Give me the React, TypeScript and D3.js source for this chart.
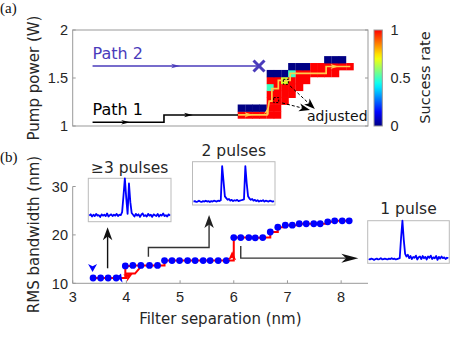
import React from "react";
import * as d3 from "d3";

// ---------- Panel (a) data ----------
const heatColCenters = [6.14, 6.28, 6.41, 6.54, 6.68, 6.81, 6.95, 7.08, 7.22, 7.35, 7.49, 7.62, 7.75, 7.89, 8.02, 8.16];
const heatRowCenters = [1.116, 1.188, 1.26, 1.332, 1.404, 1.476, 1.548, 1.62, 1.692];
const heatCellW = 0.134;
const heatCellH = 0.072;
const _ = null;
// rows from bottom (row 0) to top; value = success rate
const heatGrid: (number | null)[][] = [
  [1, 1, 1, 1, 1, 1, _, _, _, _, _, _, _, _, _, _],
  [0, 0, 0, 0, 1, 1, _, _, _, _, _, _, _, _, _, _],
  [_, _, _, _, 1, 1, 1, _, _, _, _, _, _, _, _, _],
  [_, _, _, _, 1, 1, 1, 1, _, _, _, _, _, _, _, _],
  [_, _, _, _, 0.5, 1, 1, 1, 1, _, _, _, _, _, _, _],
  [_, _, _, _, 1, 1, 0.67, 1, 1, 1, _, _, _, _, _, _],
  [_, _, _, _, 0, 0, 0, 0.5, 1, 1, 1, 1, 1, 1, _, _],
  [_, _, _, _, _, _, _, 0, 0, 0, 1, 1, 1, 1, 1, 1],
  [_, _, _, _, _, _, _, _, _, _, _, _, 0, 0, 0, _],
];
const cmapStops = [0, 0.143, 0.429, 0.714, 1];
const cmapColors = ["#000084", "#0000ff", "#00ffff", "#ffff00", "#ff0000"];

const path1X = [3.37, 4.7, 4.7, 6.08];
const path1Y = [1.039, 1.039, 1.115, 1.115];
const path1Arrows = [[4.07, 1.039], [5.24, 1.115]];
const path2X = [3.37, 6.47];
const path2Y = [1.625, 1.625];
const path2Arrow = [5.0, 1.625];
const stopMark = [6.47, 1.625];
const yellowX = [6.08, 6.62, 6.66, 6.71, 6.71, 6.83, 6.83, 7.05, 7.05, 7.72, 7.72, 8.17];
const yellowY = [1.116, 1.116, 1.26, 1.26, 1.39, 1.39, 1.476, 1.476, 1.548, 1.548, 1.62, 1.62];
const yellowArrows = [[6.35, 1.116, 0], [6.645, 1.2, -75], [7.95, 1.62, 0]];
const adjustMarks = [[6.79, 1.27], [6.97, 1.46]];
const adjustArrowsFrom = [[6.9, 1.24], [7.05, 1.417]];
const adjustArrowsTo = [[7.42, 1.167], [7.51, 1.177]];
const aTicks = [1, 1.5, 2];
const aTickLabels = ["1", "1.5", "2"];
const cbTicks = [0, 0.5, 1];
const cbTickLabels = ["0", "0.5", "1"];

// ---------- Panel (b) data ----------
const sepX = [3.38, 3.52, 3.66, 3.81, 3.98, 4.12, 4.27, 4.43, 4.58, 4.71, 4.85, 4.99, 5.14, 5.28, 5.43, 5.56, 5.71, 5.86,
  6.0, 6.13, 6.28, 6.4, 6.54, 6.68, 6.82, 6.96, 7.09, 7.22, 7.35, 7.49, 7.61, 7.75, 7.88, 8.02, 8.15];
const rmsBW = [11.1, 11.1, 11.1, 11.1, 13.6, 13.7, 13.7, 13.7, 13.7, 14.7, 14.7, 14.7, 14.7, 14.7, 14.7, 14.7, 14.7, 14.7,
  19.45, 19.45, 19.45, 19.4, 19.45, 20.6, 21.6, 22.0, 22.0, 22.3, 22.3, 22.3, 22.3, 22.7, 22.9, 22.9, 22.9];
const redBranchX = [3.81, 4.0, 4.0, 4.16, 4.29];
const redBranchY = [11.1, 11.1, 12.0, 12.0, 13.7];
const redArrows = [[4.12, 12.0, -30], [5.97, 16.6, -90]];
const blueArrows = [[3.37, 12.35, 90], [3.9, 12.0, -70]];
const bXTicks = [3, 4, 5, 6, 7, 8];
const bYTicks = [10, 20, 30];

const pulses3 = [0.14, 0.17, 0.12, 0.16, 0.13, 0.18, 0.14, 0.15, 0.11, 0.17, 0.14, 0.16, 0.13, 0.19, 0.12, 0.15, 0.17, 0.13, 0.16, 0.14, 0.18, 0.13, 0.16, 0.15, 0.22,
  0.6, 1.0, 0.55, 0.18, 0.88, 0.45, 0.2,
  0.16, 0.12, 0.18, 0.14, 0.17, 0.11, 0.16, 0.19, 0.13, 0.15, 0.12, 0.18, 0.14, 0.16, 0.11, 0.17, 0.15, 0.13, 0.18, 0.12, 0.16, 0.14, 0.19, 0.13, 0.15, 0.12, 0.17, 0.14];
const pulses2 = [0.08, 0.09, 0.07, 0.08, 0.1, 0.08, 0.07, 0.09, 0.08, 0.1, 0.08, 0.09, 0.07, 0.09, 0.08, 0.1, 0.09, 0.08, 0.1, 0.09, 0.11,
  0.9, 0.55, 0.2, 0.16, 0.12, 0.14,
  0.1, 0.12, 0.09, 0.11, 0.1, 0.12, 0.09, 0.1, 0.11, 0.12,
  0.13, 0.9, 0.5, 0.2, 0.15, 0.12,
  0.14, 0.1, 0.12, 0.09, 0.11, 0.08, 0.1, 0.09, 0.11, 0.08, 0.1, 0.09, 0.08, 0.1, 0.09, 0.08, 0.09];
const pulses1 = [0.1, 0.09, 0.11, 0.1, 0.08, 0.1, 0.11, 0.09, 0.1, 0.12, 0.09, 0.1, 0.11, 0.1, 0.09, 0.11, 0.1, 0.12, 0.1, 0.11, 0.09, 0.1, 0.11, 0.12,
  0.6, 1.0, 0.55, 0.22,
  0.16, 0.2, 0.12, 0.17, 0.1, 0.15, 0.13, 0.18, 0.09, 0.14, 0.16, 0.1, 0.17, 0.12, 0.15, 0.09, 0.16, 0.13, 0.18, 0.1, 0.14, 0.12, 0.17, 0.08, 0.15, 0.11, 0.16, 0.12, 0.14, 0.1, 0.13, 0.12];
const insetTitles = ["≥3 pulses", "2 pulses", "1 pulse"];

const SANS = "'DejaVu Sans', sans-serif";
const TICKF = "'Liberation Sans', Arial, sans-serif";
const SERIF = "'Liberation Serif', 'DejaVu Serif', serif";
const AX = "#999999";
const TXT = "#262626";
const P2C = "#4a3bbb";
const YEL = "#ffcc4d";

function head(L: number, Wd: number) {
  return `M0,0 L${-L},${-Wd / 2} L${-L * 0.72},0 L${-L},${Wd / 2} Z`;
}

function Inset({ data, box, title, titleY }: { data: number[]; box: number[]; title: string; titleY: number }) {
  const [x0, y0, x1, y1] = box;
  const xs = d3.scaleLinear().domain([0, data.length - 1]).range([x0 + 1, x1 - 1]);
  const ys = d3.scaleLinear().domain([0, 1]).range([y1, y0]);
  const ln = d3.line<number>().x((_d, i) => xs(i)).y((d) => ys(d));
  return (
    <g>
      <rect x={x0} y={y0} width={x1 - x0} height={y1 - y0} fill="#fff" stroke="#bbbbbb" strokeWidth={1} />
      <path d={ln(data) || ""} fill="none" stroke="#0000ff" strokeWidth={1.8} strokeLinejoin="round" />
      <text x={(x0 + x1) / 2} y={titleY} textAnchor="middle" fontFamily={SANS} fontSize={15.5} fill={TXT}>{title}</text>
    </g>
  );
}

export default function App() {
  const xS = d3.scaleLinear().domain([3, 8.5]).range([72.7, 368]);
  const yA = d3.scaleLinear().domain([1, 2]).range([126, 30]);
  const yB = d3.scaleLinear().domain([10, 30]).range([283.3, 186.5]);
  const cmap = d3.scaleLinear<string>().domain(cmapStops).range(cmapColors).interpolate(d3.interpolateRgb);
  const cbY = d3.scaleLinear().domain([0, 1]).range([126, 30]);

  const lineA = d3.line<number>().x((d) => xS(d));
  const mkLineA = (xs: number[], ys: number[]) =>
    d3.line<number>().x((d) => xS(d)).y((_d, i) => yA(ys[i]))(xs) || "";
  const mkLineB = (xs: number[], ys: number[], curve = d3.curveLinear) =>
    d3.line<number>().curve(curve).x((d) => xS(d)).y((_d, i) => yB(ys[i]))(xs) || "";
  void lineA;

  const cells: JSX.Element[] = [];
  heatGrid.forEach((row, r) => {
    row.forEach((v, c) => {
      if (v === null) return;
      const xl = xS(heatColCenters[c] - heatCellW / 2);
      const xr = xS(heatColCenters[c] + heatCellW / 2);
      const yt = yA(heatRowCenters[r] + heatCellH / 2);
      const yb = yA(heatRowCenters[r] - heatCellH / 2);
      cells.push(<rect key={`c${r}-${c}`} x={xl} y={yt} width={xr - xl + 0.4} height={yb - yt + 0.4} fill={cmap(v)} />);
    });
  });

  const gradStops = d3.range(0, 1.0001, 0.05);

  const insetBoxes = [
    [88.3, 178.3, 171, 221.7],
    [192.5, 161.7, 275, 205],
    [367.7, 220.7, 449.3, 263.3],
  ];
  const insetTitleY = [172.5, 155.5, 213.5];
  const insetData = [pulses3, pulses2, pulses1];

  return (
    <svg width={460} height={338} style={{ position: "absolute", left: 0, top: 0, background: "#fff" }}>
      <defs>
        <linearGradient id="cb" x1="0" y1="1" x2="0" y2="0">
          {gradStops.map((t) => (
            <stop key={t} offset={t} stopColor={cmap(t)} />
          ))}
        </linearGradient>
      </defs>
      <rect x={0} y={0} width={460} height={338} fill="#fff" />

      {/* ---------------- Panel (a) ---------------- */}
      <text x={0} y={12.5} fontFamily={SERIF} fontSize={15} fill="#111">(a)</text>
      {cells}
      {/* path 1 */}
      <path d={mkLineA(path1X, path1Y)} fill="none" stroke="#000" strokeWidth={1.6} />
      {path1Arrows.map(([x, y], i) => (
        <path key={`p1a${i}`} d={head(9, 4.5)} transform={`translate(${xS(x)},${yA(y)})`} fill="#000" />
      ))}
      {/* path 2 */}
      <path d={mkLineA(path2X, path2Y)} fill="none" stroke={P2C} strokeWidth={1.4} />
      <path d={head(9, 4.5)} transform={`translate(${xS(path2Arrow[0])},${yA(path2Arrow[1])})`} fill={P2C} />
      <g stroke={P2C} strokeWidth={3} strokeLinecap="butt">
        <line x1={xS(stopMark[0]) - 5.5} y1={yA(stopMark[1]) - 5.5} x2={xS(stopMark[0]) + 5.5} y2={yA(stopMark[1]) + 5.5} />
        <line x1={xS(stopMark[0]) - 5.5} y1={yA(stopMark[1]) + 5.5} x2={xS(stopMark[0]) + 5.5} y2={yA(stopMark[1]) - 5.5} />
      </g>
      {/* yellow path */}
      <path d={mkLineA(yellowX, yellowY)} fill="none" stroke={YEL} strokeWidth={1.7} strokeLinejoin="miter" />
      {yellowArrows.map(([x, y, a], i) => (
        <path key={`ya${i}`} d={head(8, 5)} transform={`translate(${xS(x)},${yA(y)}) rotate(${a})`} fill={YEL} />
      ))}
      {/* adjusted marks */}
      {adjustMarks.map(([x, y], i) => (
        <rect key={`am${i}`} x={xS(x) - 2.5} y={yA(y) - 2.5} width={5} height={5} fill="none" stroke="#000" strokeWidth={1} strokeDasharray="2,1.5" />
      ))}
      {adjustArrowsFrom.map(([x0, y0], i) => {
        const [x1, y1] = adjustArrowsTo[i];
        const X0 = xS(x0), Y0 = yA(y0), X1 = xS(x1), Y1 = yA(y1);
        const ang = (Math.atan2(Y1 - Y0, X1 - X0) * 180) / Math.PI;
        return (
          <g key={`aa${i}`}>
            <line x1={X0} y1={Y0} x2={X1 - 4 * Math.cos((ang * Math.PI) / 180)} y2={Y1 - 4 * Math.sin((ang * Math.PI) / 180)} stroke="#000" strokeWidth={1} strokeDasharray="3,2" />
            <path d={head(11, 8)} transform={`translate(${X1},${Y1}) rotate(${ang})`} fill="#000" />
          </g>
        );
      })}
      <text x={307} y={120.5} fontFamily={SANS} fontSize={14} fill="#111">adjusted</text>
      <text x={xS(path2X[0])} y={59} fontFamily={SANS} fontSize={16} fill={P2C}>Path 2</text>
      <text x={xS(path1X[0])} y={115} fontFamily={SANS} fontSize={16} fill="#000">Path 1</text>

      {/* axes box (a) */}
      <rect x={xS(3)} y={yA(2)} width={xS(8.5) - xS(3)} height={yA(1) - yA(2)} fill="none" stroke={AX} strokeWidth={1} />
      {aTicks.map((t, i) => (
        <g key={`at${i}`}>
          <line x1={xS(3)} x2={xS(3) + 3} y1={yA(t)} y2={yA(t)} stroke={AX} />
          <line x1={xS(8.5)} x2={xS(8.5) - 3} y1={yA(t)} y2={yA(t)} stroke={AX} />
          <text x={68} y={yA(t) + 5.2} textAnchor="end" fontFamily={TICKF} fontSize={14.5} fill={TXT}>{aTickLabels[i]}</text>
        </g>
      ))}
      <text transform={`translate(39,78) rotate(-90)`} textAnchor="middle" fontFamily={SANS} fontSize={15} fill={TXT}>Pump power (W)</text>

      {/* colorbar */}
      <rect x={374} y={cbY(1)} width={8.3} height={cbY(0) - cbY(1)} fill="url(#cb)" stroke={AX} strokeWidth={1} />
      {cbTicks.map((t, i) => (
        <text key={`cb${i}`} x={390.5} y={cbY(t) + 5.2} fontFamily={TICKF} fontSize={14.5} fill={TXT}>{cbTickLabels[i]}</text>
      ))}
      <text transform={`translate(430,77.5) rotate(-90)`} textAnchor="middle" fontFamily={SANS} fontSize={14.5} fill={TXT}>Success rate</text>

      {/* ---------------- Panel (b) ---------------- */}
      <text x={0} y={162} fontFamily={SERIF} fontSize={15} fill="#111">(b)</text>

      {insetData.map((d, i) => (
        <Inset key={`in${i}`} data={d} box={insetBoxes[i]} title={insetTitles[i]} titleY={insetTitleY[i]} />
      ))}

      {/* annotation arrows */}
      <g stroke="#111" strokeWidth={1.4} fill="none">
        <line x1={xS(3.65)} y1={yB(13.1)} x2={xS(3.65)} y2={yB(21.6) + 9} />
        <path d={`M${xS(4.41)},${yB(15.5)} V${yB(17.4)} H${xS(5.54)} V${yB(24.1) + 9}`} stroke="#333" />
        <path d={`M${xS(6.13)},${yB(17.7)} V${yB(15.2)} H${xS(8.32) - 12}`} stroke="#333" />
      </g>
      <path d={head(13, 9.5)} transform={`translate(${xS(3.65)},${yB(21.6)}) rotate(-90)`} fill="#111" />
      <path d={head(13, 9.5)} transform={`translate(${xS(5.54)},${yB(24.1)}) rotate(-90)`} fill="#222" />
      <path d={head(17, 9)} transform={`translate(${xS(8.32)},${yB(15.2)})`} fill="#111" />

      {/* data */}
      <path d={mkLineB(sepX, rmsBW, d3.curveStepAfter)} fill="none" stroke="#ff0000" strokeWidth={2} />
      <path d={mkLineB(redBranchX, redBranchY)} fill="none" stroke="#ff0000" strokeWidth={2} />
      {sepX.map((x, i) => (
        <circle key={`pt${i}`} cx={xS(x)} cy={yB(rmsBW[i])} r={3.4} fill="#0000ff" />
      ))}
      {redArrows.map(([x, y, a], i) => (
        <path key={`ra${i}`} d={head(9, 8)} transform={`translate(${xS(x)},${yB(y)}) rotate(${a})`} fill="#ff0000" />
      ))}
      {blueArrows.map(([x, y, a], i) => (
        <path key={`ba${i}`} d={head(8, 9)} transform={`translate(${xS(x)},${yB(y)}) rotate(${a})`} fill="#0000ff" />
      ))}

      {/* axes (b) */}
      <line x1={xS(3)} x2={xS(8.5)} y1={yB(10)} y2={yB(10)} stroke={AX} />
      <line x1={xS(3)} x2={xS(3)} y1={yB(10)} y2={yB(30)} stroke={AX} />
      {bXTicks.map((t) => (
        <g key={`bx${t}`}>
          <line x1={xS(t)} x2={xS(t)} y1={yB(10)} y2={yB(10) - 3} stroke={AX} />
          <text x={xS(t)} y={302} textAnchor="middle" fontFamily={TICKF} fontSize={14.5} fill={TXT}>{t}</text>
        </g>
      ))}
      {bYTicks.map((t) => (
        <g key={`by${t}`}>
          <line x1={xS(3)} x2={xS(3) + 3} y1={yB(t)} y2={yB(t)} stroke={AX} />
          <text x={68} y={yB(t) + 5.2} textAnchor="end" fontFamily={TICKF} fontSize={14.5} fill={TXT}>{t}</text>
        </g>
      ))}
      <text x={(xS(3) + xS(8.5)) / 2} y={324} textAnchor="middle" fontFamily={SANS} fontSize={15} fill={TXT}>Filter separation (nm)</text>
      <text transform={`translate(39,234.5) rotate(-90)`} textAnchor="middle" fontFamily={SANS} fontSize={15} fill={TXT}>RMS bandwidth (nm)</text>
    </svg>
  );
}
